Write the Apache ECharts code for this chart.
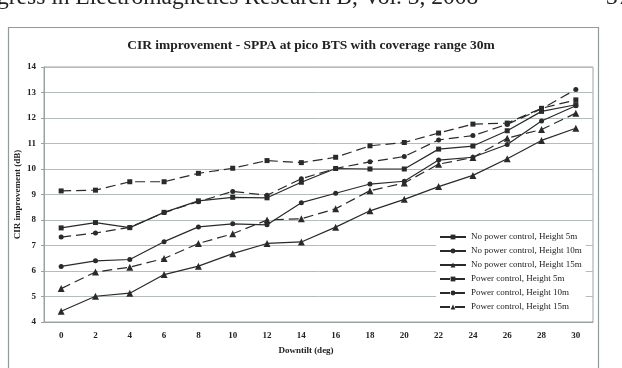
<!DOCTYPE html>
<html><head><meta charset="utf-8">
<script src="https://cdn.jsdelivr.net/npm/echarts@6/dist/echarts.min.js"></script>
<style>html,body{margin:0;padding:0;background:#fff}#c{width:622px;height:368px}</style>
</head><body><div id="c"></div>
<script>
const categories = ['0','2','4','6','8','10','12','14','16','18','20','22','24','26','28','30'];
const npc5  = [7.69,7.90,7.70,8.30,8.75,8.89,8.87,9.48,10.02,10.00,10.00,10.78,10.90,11.50,12.26,12.52];
const npc10 = [6.18,6.40,6.45,7.15,7.73,7.85,7.81,8.68,9.05,9.41,9.52,10.35,10.46,10.96,11.88,12.48];
const npc15 = [4.42,5.01,5.13,5.86,6.19,6.68,7.08,7.14,7.72,8.36,8.81,9.31,9.75,10.40,11.12,11.60];
const pc5   = [9.14,9.17,9.50,9.50,9.83,10.03,10.33,10.25,10.46,10.91,11.04,11.41,11.76,11.80,12.38,12.71];
const pc10  = [7.33,7.49,7.71,8.29,8.72,9.12,8.97,9.62,10.02,10.28,10.49,11.14,11.31,11.75,12.36,13.12];
const pc15  = [5.31,5.96,6.15,6.49,7.08,7.46,8.00,8.05,8.44,9.15,9.45,10.19,10.45,11.21,11.55,12.19];
const seriesNames = ['No power control, Height 5m','No power control, Height 10m','No power control, Height 15m',
  'Power control, Height 5m','Power control, Height 10m','Power control, Height 15m'];
const titleText = 'CIR improvement - SPPA at pico BTS with coverage range 30m';
const headerText = 'gress in Electromagnetics Research B, Vol. 3, 2008';
const pageNum = '37';

const serif = '"Liberation Serif","DejaVu Serif",serif';
const ink = '#2a2a2a';
const mk = (name, data, sym, dashed) => ({
  name, type:'line', data, symbol:sym,
  symbolSize: sym==='triangle'?7:5,
  itemStyle:{color:ink},
  lineStyle:{color:ink, width:1.2, type: dashed?[10,5]:'solid'},
  animation:false
});
const chart = echarts.init(document.getElementById('c'));
chart.setOption({
  animation:false,
  backgroundColor:'#fff',
  graphic:[
    {type:'rect', shape:{x:8.5,y:27.5,width:590,height:360}, style:{fill:'none',stroke:'#8e9c9c',lineWidth:1.2}, z:-1},
    {type:'text', left:-3, top:-14, style:{text:headerText, font:'23.5px '+serif, fill:'#222'}},
    {type:'text', left:606, top:-14, style:{text:pageNum, font:'23.5px '+serif, fill:'#222'}},
    {type:'text', left:'center', top:39, style:{text:titleText, font:'bold 13.5px '+serif, fill:'#222'}}
  ],
  grid:{left:44, right:29, top:67, bottom:46, show:true, borderColor:'#9aa3a3', borderWidth:1},
  xAxis:{type:'category', data:categories, boundaryGap:true,
    name:'Downtilt (deg)', nameLocation:'middle', nameGap:24, nameMoveOverlap:false,
    nameTextStyle:{fontFamily:serif, fontWeight:'bold', fontSize:9, color:'#222', padding:[0,25,0,0]},
    axisLine:{lineStyle:{color:'#9aa3a3'}}, axisTick:{show:false},
    axisLabel:{fontFamily:serif, fontWeight:'bold', fontSize:9, color:'#222', margin:9}},
  yAxis:{type:'value', min:4, max:14, interval:1,
    name:'CIR improvement (dB)', nameLocation:'middle', nameGap:22, nameMoveOverlap:false,
    nameTextStyle:{fontFamily:serif, fontWeight:'bold', fontSize:9, color:'#222'},
    axisLine:{show:true, lineStyle:{color:'#9aa3a3'}},
    axisTick:{show:true, length:3, lineStyle:{color:'#9aa3a3'}},
    axisLabel:{fontFamily:serif, fontWeight:'bold', fontSize:9, color:'#222', margin:8},
    splitLine:{lineStyle:{color:'#b4bcbc', width:1}}},
  legend:{orient:'vertical', left:436, top:228, backgroundColor:'#fff',
    padding:[3,4,3,3], itemWidth:26, itemHeight:6, itemGap:2,
    textStyle:{fontFamily:serif, fontSize:9, color:'#222', lineHeight:12},
    data:seriesNames},
  series:[
    mk(seriesNames[0], npc5, 'rect', false),
    mk(seriesNames[1], npc10, 'circle', false),
    mk(seriesNames[2], npc15, 'triangle', false),
    mk(seriesNames[3], pc5, 'rect', true),
    mk(seriesNames[4], pc10, 'circle', true),
    mk(seriesNames[5], pc15, 'triangle', true)
  ]
});
</script></body></html>
